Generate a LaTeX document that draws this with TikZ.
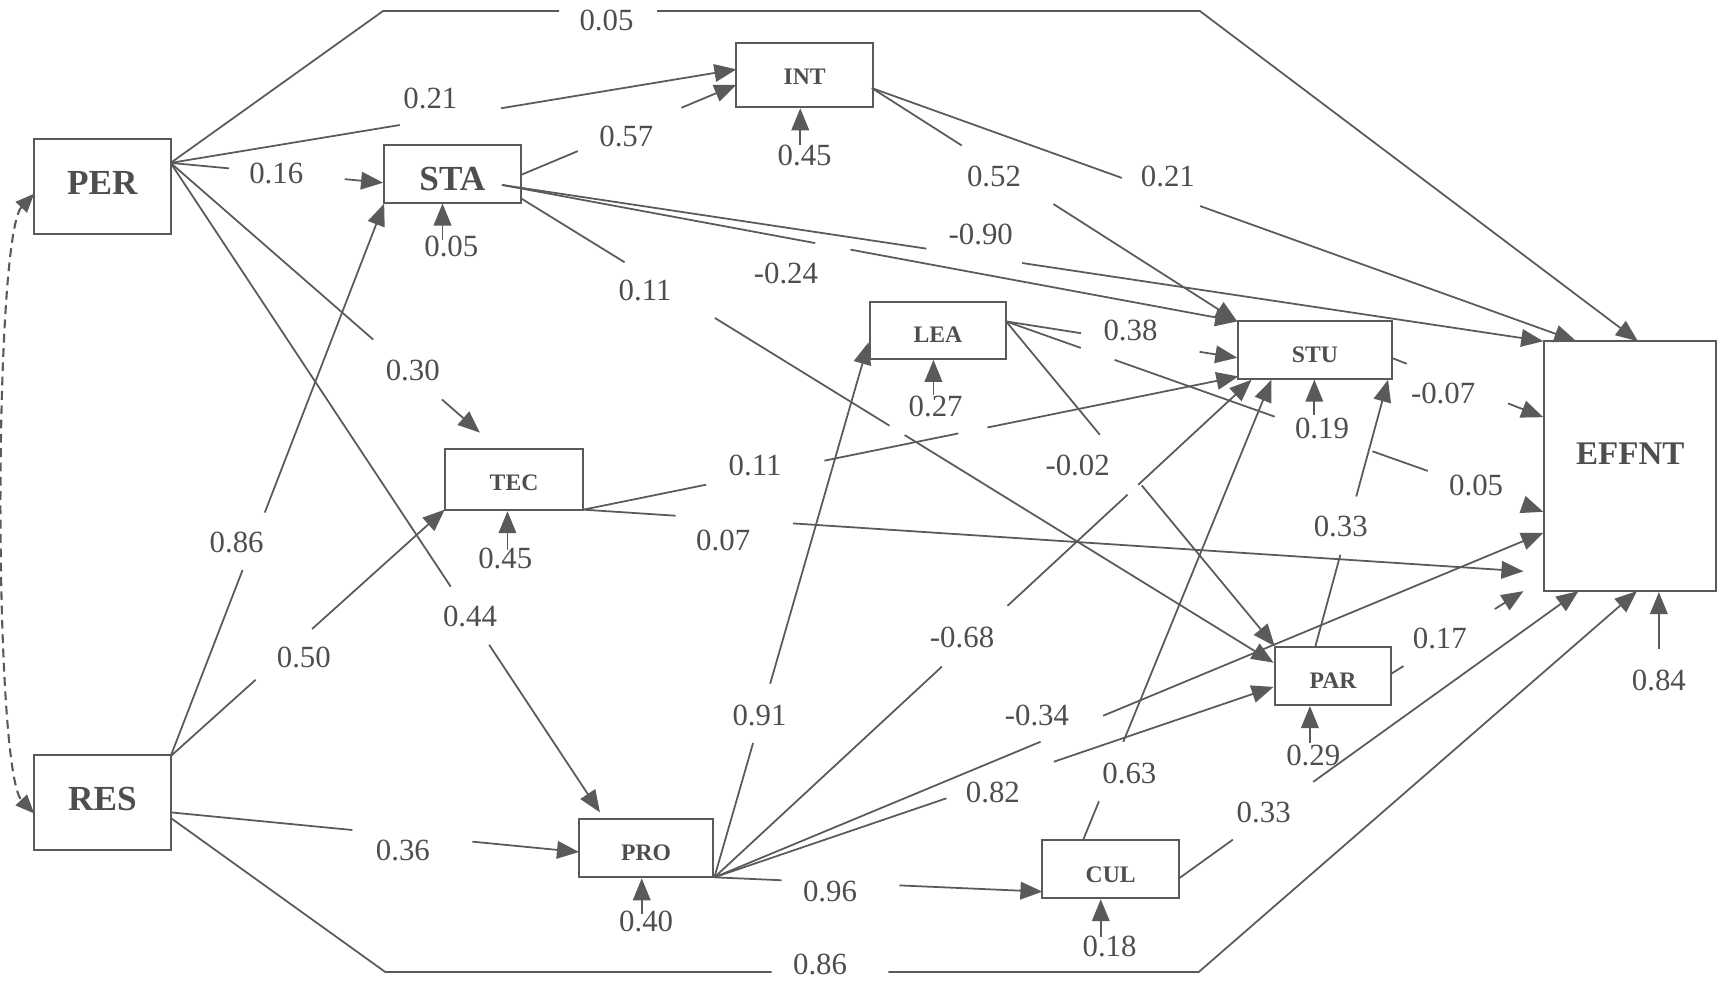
\documentclass[tikz,border=0pt]{standalone}
\usepackage{fontspec}
\setmainfont{Liberation Serif}
\usetikzlibrary{arrows.meta,calc}
\definecolor{lc}{RGB}{90,90,90}
\definecolor{tc}{RGB}{78,78,78}
\tikzset{
 box/.style={draw=lc, line width=1.8pt, inner sep=0pt, text=tc, font=\bfseries\fontsize{21.5}{24}\selectfont},
 bigbox/.style={box, font=\bfseries\fontsize{32}{34}\selectfont},
 ln/.style={draw=lc, line width=1.6pt},
 ar/.style={ln, -{Triangle[length=20pt,width=16pt]}},
 lab/.style={text=tc, inner sep=0pt, font=\fontsize{28}{30}\selectfont},
}
\newcommand\shtext[2]{\raisebox{#1}[\height][\depth]{#2}}
\newcommand\gapedge[4]{%
 \draw[ln] (#1) -- ($(#1)!#3!(#2)$);
 \draw[ar] ($(#1)!#4!(#2)$) -- (#2);}
\newcommand\gapedgetwo[6]{%
 \draw[ln] (#1) -- ($(#1)!#3!(#2)$);
 \draw[ln] ($(#1)!#4!(#2)$) -- ($(#1)!#5!(#2)$);
 \draw[ar] ($(#1)!#6!(#2)$) -- (#2);}
\begin{document}
\begin{tikzpicture}[x=1pt,y=-1pt]
\useasboundingbox (0,0) rectangle (1568,895);

% boxes
\node[bigbox, minimum width=124pt, minimum height=87pt] (PER) at (93,169.5) {\shtext{3pt}{PER}};
\node[bigbox, minimum width=124pt, minimum height=86pt] (RES) at (93,729) {\shtext{3.5pt}{RES}};
\node[bigbox, minimum width=125pt, minimum height=52pt] (STA) at (411,158) {\shtext{-4.5pt}{STA}};
\node[box, minimum width=124pt, minimum height=58pt] (INT) at (731,68.5) {\shtext{-1.5pt}{INT}};
\node[box, minimum width=126pt, minimum height=56pt] (TEC) at (467,435.5) {\shtext{-3pt}{TEC}};
\node[box, minimum width=124pt, minimum height=52pt] (LEA) at (852,300) {\shtext{-4pt}{LEA}};
\node[box, minimum width=140pt, minimum height=52pt] (STU) at (1194.5,318) {\shtext{-4.5pt}{STU}};
\node[box, minimum width=156pt, minimum height=227pt] (EFF) at (1481,423.5) {};
\node[text=tc, inner sep=0pt, font=\bfseries\fontsize{30}{32}\selectfont] (EFFt) at (1481,412) {EFFNT};
\node[box, minimum width=106pt, minimum height=53pt] (PAR) at (1211,614) {\shtext{-4pt}{PAR}};
\node[box, minimum width=122pt, minimum height=53pt] (PRO) at (587,770.5) {\shtext{-4.5pt}{PRO}};
\node[box, minimum width=124pt, minimum height=53pt] (CUL) at (1009,789.5) {\shtext{-5pt}{CUL}};

% ports
\coordinate (PERo) at (155,148);
\coordinate (RESa) at (155,687);
\coordinate (RESb) at (155,738);
\coordinate (RESc) at (155,743);
\coordinate (STAa) at (456,168);
\coordinate (STAb) at (473,159);
\coordinate (STAc) at (473,180);
\coordinate (INTo) at (792,80);
\coordinate (TECo) at (530,463);
\coordinate (LEAo) at (914,292);
\coordinate (PROo) at (649,797);
\coordinate (CULa) at (984,763);
\coordinate (CULb) at (1071,798);
\coordinate (STUo) at (1264,325);
\coordinate (PARa) at (1195,587);
\coordinate (PARb) at (1264,612);
% targets
\coordinate (INTa) at (669,63);
\coordinate (INTb) at (669,77);
\coordinate (STAi1) at (348,166);
\coordinate (STAi2) at (349,185);
\coordinate (TECi1) at (436,393);
\coordinate (TECi2) at (404,463);
\coordinate (PROi1) at (545,738);
\coordinate (PROi2) at (526,774);
\coordinate (LEAi) at (789,311);
\coordinate (STUi1) at (1124,292);
\coordinate (STUi2) at (1124,325);
\coordinate (STUi3) at (1125,342);
\coordinate (STUi4) at (1137,345);
\coordinate (STUi5) at (1155,345);
\coordinate (STUi6) at (1261,345);
\coordinate (PARi1) at (1158,587);
\coordinate (PARi2) at (1157,602);
\coordinate (PARi3) at (1157,624);
\coordinate (CULi) at (947,810);
\coordinate (Ea) at (1488,310);
\coordinate (Eb) at (1432,310);
\coordinate (Ec) at (1402,310);
\coordinate (Ed) at (1402,379);
\coordinate (Ee) at (1402,465);
\coordinate (Ef) at (1402,484);
\coordinate (Eg) at (1384,519);
\coordinate (Eh) at (1384,537);
\coordinate (Ei) at (1434,537);
\coordinate (Ej) at (1487,537);
% polyline corners
\coordinate (C1) at (348,10);
\coordinate (G1a) at (508,10);
\coordinate (G1b) at (597,10);
\coordinate (C2) at (1090,10);
\coordinate (C3) at (350,883);
\coordinate (G2a) at (701,883);
\coordinate (G2b) at (807,883);
\coordinate (C4) at (1089,883);

% long outer paths
\draw[ln] (PERo) -- (C1) -- (G1a);
\draw[ar] (G1b) -- (C2) -- (Ea);
\draw[ln] (RESc) -- (C3) -- (G2a);
\draw[ar] (G2b) -- (C4) -- (Ej);

% paths with gaps
\gapedge{PERo}{INTa}{0.405}{0.584}
\gapedge{PERo}{STAi1}{0.275}{0.819}
\gapedge{PERo}{TECi1}{0.655}{0.877}
\gapedge{PERo}{PROi1}{0.6525}{0.742}
\gapedge{RESa}{STAi2}{0.337}{0.441}
\gapedge{RESa}{TECi2}{0.31}{0.516}
\gapedge{RESb}{PROi2}{0.445}{0.739}
\gapedge{STAb}{INTb}{0.265}{0.745}
\gapedge{INTo}{STUi1}{0.246}{0.497}
\gapedge{INTo}{Eb}{0.355}{0.466}
\gapedge{STAa}{STUi1}{0.426}{0.474}
\gapedge{STAa}{Ec}{0.4076}{0.4995}
\gapedgetwo{STAc}{PARi2}{0.138}{0.258}{0.4898}{0.510}
\gapedgetwo{TECo}{STUi3}{0.1874}{0.368}{0.5724}{0.6168}
\gapedge{TECo}{Eg}{0.098}{0.223}
\gapedge{LEAo}{STUi2}{0.324}{0.837}
\gapedge{LEAo}{PARi1}{0.349}{0.505}
\draw[ln] (LEAo) -- ($(LEAo)!0.139!(Ee)$);
\draw[ln] ($(LEAo)!0.202!(Ee)$) -- ($(LEAo)!0.5!(Ee)$);
\draw[ln] ($(LEAo)!0.682!(Ee)$) -- ($(LEAo)!0.785!(Ee)$);
\draw[ar] ($(LEAo)!0.971!(Ee)$) -- (Ee);
\gapedge{PROo}{LEAi}{0.251}{0.362}
\gapedgetwo{PROo}{STUi4}{0.4235}{0.5455}{0.769}{0.789}
\gapedge{PROo}{Ef}{0.3935}{0.469}
\gapedge{PROo}{PARi3}{0.415}{0.607}
\gapedge{PROo}{CULi}{0.205}{0.564}
\gapedge{CULa}{STUi5}{0.084}{0.213}
\gapedge{CULb}{Ei}{0.135}{0.336}
\gapedge{STUo}{Ed}{0.101}{0.768}
\gapedge{PARa}{STUi6}{0.343}{0.562}
\gapedge{PARb}{Eh}{0.092}{0.783}

% error terms
\coordinate (INTe) at (727,132);
\coordinate (STAe) at (402,218);
\coordinate (TECe) at (461,500);
\coordinate (LEAe) at (848,359);
\coordinate (STUe) at (1194,377);
\coordinate (PARe) at (1190,675);
\coordinate (PROe) at (583,830);
\coordinate (CULe) at (1000,851);
\coordinate (EFFe) at (1507,590);
\draw[ar] (INTe) -- (INTe |- INT.south);
\draw[ar] (STAe) -- (STAe |- STA.south);
\draw[ar] (TECe) -- (TECe |- TEC.south);
\draw[ar] (LEAe) -- (LEAe |- LEA.south);
\draw[ar] (STUe) -- (STUe |- STU.south);
\draw[ar] (PARe) -- (PARe |- PAR.south);
\draw[ar] (PROe) -- (PROe |- PRO.south);
\draw[ar] (CULe) -- (CULe |- CUL.south);
\draw[ar] (EFFe) -- (EFFe |- EFF.south);

% correlation PER <-> RES
\coordinate (PERw) at (31,176);
\coordinate (RESw) at (31,739);
\draw[ln, line width=1.9pt, dash pattern=on 8pt off 5pt, {Triangle[length=17pt,width=14pt]}-{Triangle[length=17pt,width=14pt]}]
  (PERw) .. controls (-6,215) and (-6,700) .. (RESw);

% labels
\node[lab] (l01) at (551,19) {0.05};
\node[lab] (l02) at (391,89) {0.21};
\node[lab] (l03) at (251,158) {0.16};
\node[lab] (l04) at (569,124) {0.57};
\node[lab] (l05) at (731,141) {0.45};
\node[lab] (l06) at (903,160) {0.52};
\node[lab] (l07) at (1061,160) {0.21};
\node[lab] (l08) at (410,224) {0.05};
\node[lab] (l09) at (891,213) {-0.90};
\node[lab] (l10) at (714,248) {-0.24};
\node[lab] (l11) at (586,264) {0.11};
\node[lab] (l12) at (1027,300) {0.38};
\node[lab] (l13) at (375,337) {0.30};
\node[lab] (l14) at (850,369) {0.27};
\node[lab] (l15) at (1311,357) {-0.07};
\node[lab] (l16) at (1201,389) {0.19};
\node[lab] (l17) at (686,423) {0.11};
\node[lab] (l18) at (979,423) {-0.02};
\node[lab] (l19) at (1341,441) {0.05};
\node[lab] (l20) at (215,493) {0.86};
\node[lab] (l21) at (657,491) {0.07};
\node[lab] (l22) at (459,507) {0.45};
\node[lab] (l23) at (1218,478) {0.33};
\node[lab] (l24) at (427,560) {0.44};
\node[lab] (l25) at (874,579) {-0.68};
\node[lab] (l26) at (1308,580) {0.17};
\node[lab] (l27) at (276,597) {0.50};
\node[lab] (l28) at (1507,618) {0.84};
\node[lab] (l29) at (690,650) {0.91};
\node[lab] (l30) at (942,650) {-0.34};
\node[lab] (l31) at (1193,686) {0.29};
\node[lab] (l32) at (1026,703) {0.63};
\node[lab] (l33) at (902,720) {0.82};
\node[lab] (l34) at (1148,738) {0.33};
\node[lab] (l35) at (366,773) {0.36};
\node[lab] (l36) at (754,810) {0.96};
\node[lab] (l37) at (587,837) {0.40};
\node[lab] (l38) at (1008,860) {0.18};
\node[lab] (l39) at (745,876) {0.86};
\end{tikzpicture}
\end{document}
